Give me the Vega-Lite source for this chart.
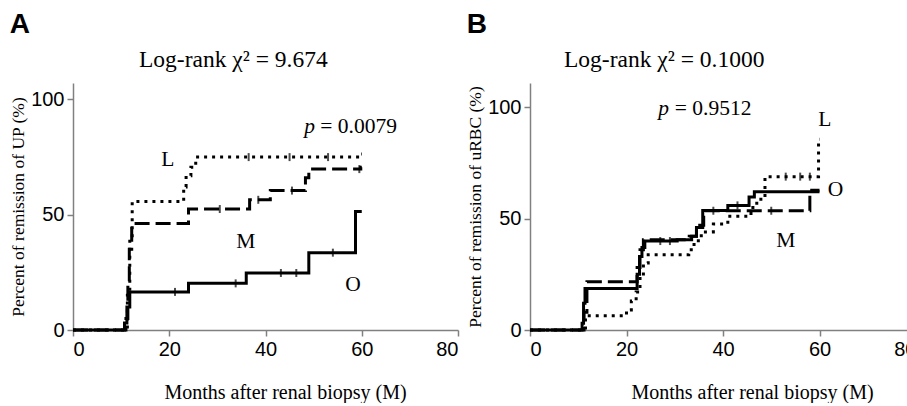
{
  "$schema": "https://vega.github.io/schema/vega-lite/v6.json",
  "padding": {"left": 9, "top": 10, "right": 0, "bottom": 0},
  "background": "white",
  "config": {
    "view": {"stroke": null},
    "concat": {"spacing": 7},
    "axis": {
      "grid": false,
      "domainColor": "#808080", "domainWidth": 1.5,
      "tickColor": "#808080", "tickWidth": 1.5, "tickSize": 6,
      "labelFont": "Liberation Sans", "labelFontSize": 20, "labelColor": "black",
      "titleFont": "Liberation Serif", "titleFontWeight": "normal", "titleColor": "black"
    },
    "axisX": {"labelPadding": 3.5, "titlePadding": 23, "titleFontSize": 20},
    "axisY": {"labelPadding": 3, "titlePadding": 3, "titleFontSize": 17.5}
  },
  "datasets": {
    "curvesA": [
      {"series": "O", "month": 0, "pct": 0}, {"series": "O", "month": 10.7, "pct": 3}, {"series": "O", "month": 11.2, "pct": 10}, {"series": "O", "month": 11.8, "pct": 16.5}, {"series": "O", "month": 24.0, "pct": 20.2}, {"series": "O", "month": 36.0, "pct": 24.7}, {"series": "O", "month": 49.0, "pct": 33.5}, {"series": "O", "month": 58.7, "pct": 51.3}, {"series": "O", "month": 60, "pct": 51.3},
      {"series": "M", "month": 0, "pct": 0}, {"series": "M", "month": 11.0, "pct": 5}, {"series": "M", "month": 11.4, "pct": 20}, {"series": "M", "month": 11.7, "pct": 35}, {"series": "M", "month": 12.2, "pct": 46.1}, {"series": "M", "month": 24.0, "pct": 52.4}, {"series": "M", "month": 36.7, "pct": 56.4}, {"series": "M", "month": 41.0, "pct": 60.4}, {"series": "M", "month": 48.3, "pct": 66}, {"series": "M", "month": 49.0, "pct": 69.7}, {"series": "M", "month": 59.8, "pct": 70.5}, {"series": "M", "month": 60, "pct": 70.5},
      {"series": "L", "month": 0, "pct": 0}, {"series": "L", "month": 11.3, "pct": 15}, {"series": "L", "month": 11.8, "pct": 40}, {"series": "L", "month": 12.3, "pct": 55.7}, {"series": "L", "month": 23.0, "pct": 62}, {"series": "L", "month": 23.5, "pct": 66.8}, {"series": "L", "month": 24.5, "pct": 70.5}, {"series": "L", "month": 25.5, "pct": 74.9}, {"series": "L", "month": 59.8, "pct": 76.2}, {"series": "L", "month": 60, "pct": 76.2}
    ],
    "censA": [
      {"series": "O", "month": 21.2, "pct": 16.5}, {"series": "O", "month": 33.8, "pct": 20.2}, {"series": "O", "month": 43.2, "pct": 24.7}, {"series": "O", "month": 46.4, "pct": 24.7}, {"series": "O", "month": 54.0, "pct": 33.5},
      {"series": "M", "month": 30.5, "pct": 52.4}, {"series": "M", "month": 38.5, "pct": 56.4}, {"series": "M", "month": 45.5, "pct": 60.4}, {"series": "M", "month": 59.5, "pct": 69.7},
      {"series": "L", "month": 36.5, "pct": 74.9}, {"series": "L", "month": 45.0, "pct": 74.9}, {"series": "L", "month": 53.0, "pct": 74.9}
    ],
    "textA": [
      {"kind": "group", "label": "L", "month": 19.7, "pct": 73.6},
      {"kind": "group", "label": "M", "month": 35.9, "pct": 38.1},
      {"kind": "group", "label": "O", "month": 58.2, "pct": 19.5},
      {"kind": "p", "label": "p", "month": 50.3, "pct": 88},
      {"kind": "pval", "label": "= 0.0079", "month": 51.4, "pct": 88}
    ],
    "curvesB": [
      {"series": "O", "month": 0, "pct": 0}, {"series": "O", "month": 10.8, "pct": 3}, {"series": "O", "month": 11.1, "pct": 12}, {"series": "O", "month": 11.4, "pct": 18.6}, {"series": "O", "month": 22.2, "pct": 25}, {"series": "O", "month": 22.7, "pct": 33}, {"series": "O", "month": 23.2, "pct": 37}, {"series": "O", "month": 23.8, "pct": 39.9}, {"series": "O", "month": 30.5, "pct": 40.5}, {"series": "O", "month": 33.5, "pct": 42}, {"series": "O", "month": 34.5, "pct": 46}, {"series": "O", "month": 35.8, "pct": 53.6}, {"series": "O", "month": 41.0, "pct": 55.9}, {"series": "O", "month": 45.4, "pct": 59.7}, {"series": "O", "month": 46.5, "pct": 62}, {"series": "O", "month": 60, "pct": 62},
      {"series": "M", "month": 0, "pct": 0}, {"series": "M", "month": 11.2, "pct": 8}, {"series": "M", "month": 11.8, "pct": 21.6}, {"series": "M", "month": 22.2, "pct": 28}, {"series": "M", "month": 22.8, "pct": 36}, {"series": "M", "month": 23.5, "pct": 40.5}, {"series": "M", "month": 33.0, "pct": 42}, {"series": "M", "month": 34.5, "pct": 47}, {"series": "M", "month": 36.0, "pct": 53.5}, {"series": "M", "month": 58.0, "pct": 62.7}, {"series": "M", "month": 60, "pct": 62.7},
      {"series": "L", "month": 0, "pct": 0}, {"series": "L", "month": 11.5, "pct": 6.4}, {"series": "L", "month": 20.0, "pct": 9}, {"series": "L", "month": 21.0, "pct": 13}, {"series": "L", "month": 22.0, "pct": 17}, {"series": "L", "month": 22.8, "pct": 24}, {"series": "L", "month": 23.5, "pct": 30}, {"series": "L", "month": 24.5, "pct": 33.8}, {"series": "L", "month": 32.9, "pct": 36}, {"series": "L", "month": 34.0, "pct": 40}, {"series": "L", "month": 35.5, "pct": 44}, {"series": "L", "month": 38.0, "pct": 47.5}, {"series": "L", "month": 41.0, "pct": 51}, {"series": "L", "month": 45.8, "pct": 55}, {"series": "L", "month": 47.0, "pct": 58.6}, {"series": "L", "month": 48.7, "pct": 68.8}, {"series": "L", "month": 59.8, "pct": 85.6}, {"series": "L", "month": 60, "pct": 85.6}
    ],
    "censB": [
      {"series": "O", "month": 27.0, "pct": 39.9}, {"series": "O", "month": 29.0, "pct": 39.9}, {"series": "O", "month": 43.0, "pct": 55.9},
      {"series": "M", "month": 38.0, "pct": 53.5}, {"series": "M", "month": 50.0, "pct": 53.5},
      {"series": "L", "month": 53.0, "pct": 68.8}, {"series": "L", "month": 56.0, "pct": 68.8}, {"series": "L", "month": 58.0, "pct": 68.8}
    ],
    "textB": [
      {"kind": "group", "label": "L", "month": 61.1, "pct": 94.2},
      {"kind": "group", "label": "O", "month": 63.3, "pct": 62.7},
      {"kind": "group", "label": "M", "month": 53.0, "pct": 39.9},
      {"kind": "p", "label": "p", "month": 28.8, "pct": 99.2},
      {"kind": "pval", "label": "= 0.9512", "month": 30.0, "pct": 99.2}
    ]
  },
  "hconcat": [
    {
      "title": {"text": "A", "anchor": "start", "frame": "bounds", "font": "Liberation Sans", "fontSize": 28, "fontWeight": "bold", "color": "black", "offset": 9},
      "hconcat": [
        {
          "width": 385, "height": 247,
          "title": {"text": "Log-rank χ² = 9.674", "anchor": "start", "frame": "group", "dx": 66, "font": "Liberation Serif", "fontSize": 23.5, "fontWeight": "normal", "color": "black", "offset": 12},
          "layer": [
            {
              "data": {"name": "curvesA"},
              "mark": {"type": "line", "interpolate": "step-after", "strokeWidth": 3, "color": "black"},
              "encoding": {
                "x": {"field": "month", "type": "quantitative", "scale": {"domain": [0, 80], "nice": false}, "axis": {"title": "Months after renal biopsy (M)", "values": [0, 20, 40, 60, 80], "titleX": 212}},
                "y": {"field": "pct", "type": "quantitative", "scale": {"domain": [0, 107], "nice": false}, "axis": {"title": "Percent of  remission of UP (%)", "values": [0, 50, 100]}},
                "strokeDash": {"field": "series", "type": "nominal", "scale": {"domain": ["L", "M", "O"], "range": [[3, 5], [15, 6], [1, 0]]}, "legend": null}
              }
            },
            {
              "data": {"name": "censA"},
              "mark": {"type": "tick", "orient": "vertical", "size": 8, "thickness": 2, "color": "black"},
              "encoding": {
                "x": {"field": "month", "type": "quantitative"},
                "y": {"field": "pct", "type": "quantitative"}
              }
            },
            {
              "data": {"name": "textA"},
              "transform": [{"filter": "datum.kind === 'group'"}],
              "mark": {"type": "text", "font": "Liberation Serif", "fontSize": 21.5, "color": "black", "align": "center", "baseline": "middle"},
              "encoding": {"x": {"field": "month", "type": "quantitative"}, "y": {"field": "pct", "type": "quantitative"}, "text": {"field": "label"}}
            },
            {
              "data": {"name": "textA"},
              "transform": [{"filter": "datum.kind === 'p'"}],
              "mark": {"type": "text", "font": "Liberation Serif", "fontSize": 21.5, "fontStyle": "italic", "color": "black", "align": "right", "baseline": "middle"},
              "encoding": {"x": {"field": "month", "type": "quantitative"}, "y": {"field": "pct", "type": "quantitative"}, "text": {"field": "label"}}
            },
            {
              "data": {"name": "textA"},
              "transform": [{"filter": "datum.kind === 'pval'"}],
              "mark": {"type": "text", "font": "Liberation Serif", "fontSize": 21.5, "color": "black", "align": "left", "baseline": "middle"},
              "encoding": {"x": {"field": "month", "type": "quantitative"}, "y": {"field": "pct", "type": "quantitative"}, "text": {"field": "label"}}
            }
          ]
        }
      ]
    },
    {
      "title": {"text": "B", "anchor": "start", "frame": "bounds", "font": "Liberation Sans", "fontSize": 28, "fontWeight": "bold", "color": "black", "offset": 9},
      "hconcat": [
        {
          "width": 386, "height": 247,
          "title": {"text": "Log-rank χ² = 0.1000", "anchor": "start", "frame": "group", "dx": 34, "font": "Liberation Serif", "fontSize": 23.5, "fontWeight": "normal", "color": "black", "offset": 12},
          "layer": [
            {
              "data": {"name": "curvesB"},
              "mark": {"type": "line", "interpolate": "step-after", "strokeWidth": 3, "color": "black"},
              "encoding": {
                "x": {"field": "month", "type": "quantitative", "scale": {"domain": [0, 80], "nice": false}, "axis": {"title": "Months after renal biopsy (M)", "values": [0, 20, 40, 60, 80], "titleX": 222}},
                "y": {"field": "pct", "type": "quantitative", "scale": {"domain": [0, 110.8], "nice": false}, "axis": {"title": "Percent of  remission of uRBC (%)", "values": [0, 50, 100]}},
                "strokeDash": {"field": "series", "type": "nominal", "scale": {"domain": ["L", "M", "O"], "range": [[3, 5], [15, 6], [1, 0]]}, "legend": null}
              }
            },
            {
              "data": {"name": "censB"},
              "mark": {"type": "tick", "orient": "vertical", "size": 8, "thickness": 2, "color": "black"},
              "encoding": {
                "x": {"field": "month", "type": "quantitative"},
                "y": {"field": "pct", "type": "quantitative"}
              }
            },
            {
              "data": {"name": "textB"},
              "transform": [{"filter": "datum.kind === 'group'"}],
              "mark": {"type": "text", "font": "Liberation Serif", "fontSize": 21.5, "color": "black", "align": "center", "baseline": "middle"},
              "encoding": {"x": {"field": "month", "type": "quantitative"}, "y": {"field": "pct", "type": "quantitative"}, "text": {"field": "label"}}
            },
            {
              "data": {"name": "textB"},
              "transform": [{"filter": "datum.kind === 'p'"}],
              "mark": {"type": "text", "font": "Liberation Serif", "fontSize": 21.5, "fontStyle": "italic", "color": "black", "align": "right", "baseline": "middle"},
              "encoding": {"x": {"field": "month", "type": "quantitative"}, "y": {"field": "pct", "type": "quantitative"}, "text": {"field": "label"}}
            },
            {
              "data": {"name": "textB"},
              "transform": [{"filter": "datum.kind === 'pval'"}],
              "mark": {"type": "text", "font": "Liberation Serif", "fontSize": 21.5, "color": "black", "align": "left", "baseline": "middle"},
              "encoding": {"x": {"field": "month", "type": "quantitative"}, "y": {"field": "pct", "type": "quantitative"}, "text": {"field": "label"}}
            }
          ]
        }
      ]
    }
  ]
}
